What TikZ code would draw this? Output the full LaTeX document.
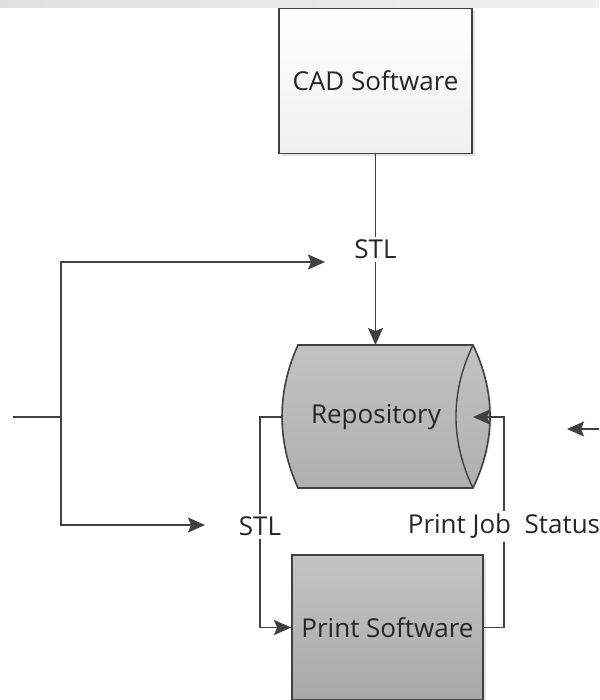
\documentclass[tikz,border=0pt]{standalone}
\usepackage{fontspec}
\setmainfont{Open Sans}
\usetikzlibrary{arrows.meta,shadows}
\definecolor{edge}{HTML}{404040}
\definecolor{ink}{HTML}{262626}
\tikzset{
  box/.style={draw=edge, line width=1.8pt, minimum width=193pt, minimum height=145pt, inner sep=0pt, font=\fontsize{26}{30}\selectfont, text=ink},
  conn/.style={draw=edge, line width=1.8pt},
  arr/.style={conn, -{Stealth[length=17pt,width=15pt,inset=3pt]}},
  lbl/.style={fill=white, font=\fontsize{26}{30}\selectfont, text=ink, inner sep=3pt},
  txt/.style={font=\fontsize{26}{30}\selectfont, text=ink, inner sep=0pt},
  boxshadow/.style={drop shadow={shadow xshift=2.5pt, shadow yshift=-2.5pt, fill=black!18, opacity=0.6}}
}
\begin{document}
\begin{tikzpicture}[x=1pt,y=-1pt]
\useasboundingbox (0,0) rectangle (599,700);
\clip (0,0) rectangle (599,700);
\shade[left color=black!12, right color=black!6] (0,0) rectangle (599,8);

% nodes
\node[box, boxshadow, top color=white, bottom color=black!6] (cad) at (375.5,81) {CAD Software};
\node[box, boxshadow, minimum width=191pt, top color=black!23, bottom color=black!34] (print) at (387.5,627.5) {Print Software};

% repository cylinder
\coordinate (rtl) at (298,345);
\coordinate (rtr) at (473,345);
\coordinate (rbl) at (298,488);
\coordinate (rbr) at (473,488);
\coordinate (rleft) at (282,417);
\coordinate (rtip) at (473,417);
\fill[black!15, opacity=0.6, shift={(2.5,2.5)}] (rtl) -- (rtr) .. controls (495.7,392) and (495.7,441) .. (rbr) -- (rbl) .. controls (276.7,441) and (276.7,392) .. (rtl) -- cycle;
\path[draw=edge, line width=1.6pt, top color=black!24, bottom color=black!31] (rtl) -- (rtr) .. controls (495.7,392) and (495.7,441) .. (rbr) -- (rbl) .. controls (276.7,441) and (276.7,392) .. (rtl) -- cycle;
\draw[edge, line width=1.4pt] (rtr) .. controls (450.3,392) and (450.3,441) .. (rbr);
\node[txt] (repo) at (376,417) {Repository};

% connectors
\draw[arr] (cad.south) -- node[lbl]{STL} (cad.south |- rtl);

\coordinate (lx) at (260,417);
\draw[arr] (rleft) -- (lx) |- node[lbl,pos=0.26]{STL} (print.west);

\coordinate (rx) at (504,417);
\draw[arr] (print.east) -| node[lbl,pos=0.74]{Print Job\ \ Status} (rx) -- (rtip);

\coordinate (src) at (13,417);
\coordinate (fork) at (61,417);
\coordinate (tipA) at (325,262);
\coordinate (tipB) at (205,525);
\draw[conn] (src) -- (fork);
\draw[arr] (fork) |- (tipA);
\draw[arr] (fork) |- (tipB);

\coordinate (ext) at (605,429);
\coordinate (extTip) at (567,429);
\draw[arr] (ext) -- (extTip);
\end{tikzpicture}
\end{document}
